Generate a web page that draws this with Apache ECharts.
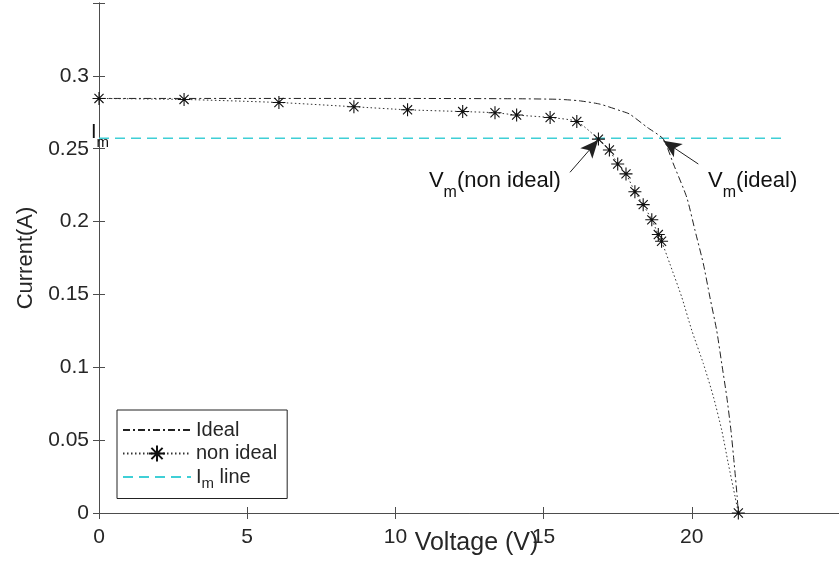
<!DOCTYPE html>
<html>
<head>
<meta charset="utf-8">
<script src="https://cdn.jsdelivr.net/npm/echarts@6/dist/echarts.min.js"></script>
<style>
  html, body { margin: 0; padding: 0; background: #fff; }
  #main { width: 839px; height: 563px; }
</style>
</head>
<body>
<div id="main"></div>
<script>
// ideal I-V curve
const idealV = [0, 5, 10, 14, 15.5, 16.2, 16.9, 17.6, 17.9, 18.5, 19.04, 19.38, 19.83, 20.11, 20.39, 20.61, 20.84, 21.01, 21.18, 21.32, 21.43, 21.53, 21.57];
const idealI = [0.2845, 0.2845, 0.2845, 0.2843, 0.2839, 0.2829, 0.2806, 0.276, 0.2738, 0.2646, 0.2566, 0.2395, 0.2166, 0.1938, 0.171, 0.1482, 0.1253, 0.1025, 0.0797, 0.0568, 0.034, 0.0112, 0];

// non ideal curve, points with a * marker
const nonIdealV = [0, 2.87, 6.07, 8.6, 10.41, 12.27, 13.36, 14.09, 15.22, 16.12, 16.85, 17.22, 17.5, 17.78, 18.08, 18.36, 18.65, 18.87, 18.98, 21.57];
const nonIdealI = [0.2845, 0.2838, 0.2817, 0.2788, 0.2767, 0.2755, 0.2747, 0.2731, 0.2714, 0.2687, 0.2566, 0.2491, 0.2395, 0.2327, 0.2205, 0.2116, 0.2012, 0.1911, 0.1865, 0];
// dotted part between the last two markers (no marker drawn)
const nonIdealTailV = [19.26, 19.66, 20.0, 20.39, 20.73, 21.01, 21.23, 21.46];
const nonIdealTailI = [0.171, 0.1482, 0.1253, 0.1025, 0.0797, 0.0568, 0.034, 0.0112];

// Im line
const imCurrent = 0.2571;
const imLineV = [0, 23.2];

// tick labels
const xTicks = [0, 5, 10, 15, 20];
const yTicks = [0, 0.05, 0.1, 0.15, 0.2, 0.25, 0.3];

const font = 'Liberation Sans';
const txt = '#262626';
const axisCol = '#4d4d4d';
const star = 'path://M10,0L10,20M0,10L20,10M3,3L17,17M3,17L17,3';

let idealData = idealV.map((v, i) => [v, idealI[i]]);

let nonIdealData = nonIdealV.map((v, i) => ({ value: [v, nonIdealI[i]] }));
nonIdealTailV.forEach((v, i) => {
  nonIdealData.push({ value: [v, nonIdealTailI[i]], symbol: 'none' });
});
nonIdealData.sort((a, b) => a.value[0] - b.value[0]);

let imData = imLineV.map(v => [v, imCurrent]);

function hasTick(list, v) {
  return list.some(t => Math.abs(t - v) < 1e-6);
}

const hiddenAxis = {
  min: 0,
  axisLine: { show: true, lineStyle: { color: axisCol, width: 1 } },
  axisTick: { show: true, inside: true, length: 6, lineStyle: { color: axisCol } },
  axisLabel: { show: false },
  splitLine: { show: false }
};

let chart = echarts.init(document.getElementById('main'));

let option = {
  animation: false,
  backgroundColor: '#fff',
  grid: { left: 99, right: -1, top: 3, bottom: 50, containLabel: false, outerBoundsMode: 'none' },
  legend: {
    data: [
      { name: 'Ideal', itemStyle: { opacity: 0 } },
      { name: 'non ideal' },
      { name: 'Im line', itemStyle: { opacity: 0 } }
    ],
    orient: 'vertical',
    left: 117,
    top: 410,
    padding: [10, 10, 7, 5],
    itemGap: 3.5,
    itemWidth: 68,
    itemHeight: 20,
    borderColor: '#222',
    borderWidth: 1,
    backgroundColor: '#fff',
    selectedMode: false,
    textStyle: {
      fontFamily: font, fontSize: 20, lineHeight: 20, color: txt,
      rich: {
        n: { fontFamily: font, fontSize: 20, color: txt },
        s: { fontFamily: font, fontSize: 15, color: txt, padding: [14, 0, 0, 0] }
      }
    },
    formatter: function (name) {
      if (name === 'Im line') return '{n|I}{s|m}{n| line}';
      return name;
    }
  },
  xAxis: [{
    type: 'value',
    min: 0,
    max: 25,
    interval: 5,
    name: 'Voltage (V)',
    nameLocation: 'middle',
    nameGap: 18,
    nameMoveOverlap: false,
    nameTextStyle: { fontFamily: font, fontSize: 25, color: txt, padding: [0, 0, 0, 14] },
    axisLine: { show: true, lineStyle: { color: axisCol, width: 1 } },
    axisTick: { show: true, inside: true, length: 6, lineStyle: { color: axisCol } },
    axisLabel: {
      fontFamily: font, fontSize: 21, color: txt, margin: 14,
      formatter: v => hasTick(xTicks, v) ? String(v) : ''
    },
    splitLine: { show: false }
  }, Object.assign({ type: 'value', position: 'top', max: 25, interval: 5 }, hiddenAxis)],
  yAxis: [{
    type: 'value',
    min: 0,
    max: 0.35,
    interval: 0.05,
    name: 'Current(A)',
    nameLocation: 'middle',
    nameGap: 62,
    nameMoveOverlap: false,
    nameTextStyle: { fontFamily: font, fontSize: 22, color: txt },
    axisLine: { show: true, lineStyle: { color: axisCol, width: 1 } },
    axisTick: { show: true, inside: true, length: 6, lineStyle: { color: axisCol } },
    axisLabel: {
      fontFamily: font, fontSize: 21, color: txt, margin: 10,
      formatter: v => hasTick(yTicks, v) ? String(+v.toFixed(2)) : ''
    },
    splitLine: { show: false }
  }, Object.assign({ type: 'value', position: 'right', max: 0.35, interval: 0.05 }, hiddenAxis)],
  series: [
    {
      name: 'Ideal',
      type: 'line',
      data: idealData,
      smooth: 0.2,
      symbol: 'none',
      itemStyle: { color: '#222' },
      lineStyle: { color: '#222', width: 1, type: [7, 3, 2, 3] },
      z: 3
    },
    {
      name: 'non ideal',
      type: 'line',
      data: nonIdealData,
      smooth: 0.2,
      symbol: star,
      symbolSize: 13,
      showSymbol: true,
      itemStyle: { color: '#111', borderColor: '#111', borderWidth: 1.1 },
      lineStyle: { color: '#333', width: 1, type: [1.5, 2.5] },
      z: 4
    },
    {
      name: 'Im line',
      type: 'line',
      data: imData,
      symbol: 'none',
      itemStyle: { color: '#3fcfd6' },
      lineStyle: { color: '#3fcfd6', width: 1.5, type: [10, 6] },
      z: 2
    },
    {
      name: 'arrows',
      type: 'line',
      data: [],
      markLine: {
        silent: true,
        animation: false,
        label: { show: false },
        lineStyle: { color: '#222', width: 1, type: 'solid' },
        data: [
          [{ coord: [15.89, 0.2338], symbol: 'none' }, { coord: [16.84, 0.256], symbol: 'arrow', symbolSize: [12, 18] }],
          [{ coord: [20.22, 0.2395], symbol: 'none' }, { coord: [19.04, 0.2555], symbol: 'arrow', symbolSize: [12, 18] }]
        ]
      },
      z: 5
    }
  ]
};

chart.setOption(option);

// annotations placed from data coordinates
function px(v, i) {
  return chart.convertToPixel({ xAxisIndex: 0, yAxisIndex: 0 }, [v, i]);
}

function subText(p, text, size, subSize, pad) {
  return {
    type: 'text',
    x: p[0],
    y: p[1],
    z: 100,
    style: {
      text: text,
      align: 'left',
      verticalAlign: 'middle',
      rich: {
        n: { fontFamily: font, fontSize: size, fill: '#111' },
        s: { fontFamily: font, fontSize: subSize, fill: '#111', padding: [pad, 0, 0, 0] }
      }
    }
  };
}

chart.setOption({
  graphic: [
    subText(px(11.13, 0.2281), '{n|V}{s|m}{n|(non ideal)}', 22, 16, 24),
    subText(px(20.55, 0.2281), '{n|V}{s|m}{n|(ideal)}', 22, 16, 24),
    subText(px(-0.27, 0.2613), '{n|I}{s|m}', 20, 15, 22)
  ]
});
</script>
</body>
</html>
